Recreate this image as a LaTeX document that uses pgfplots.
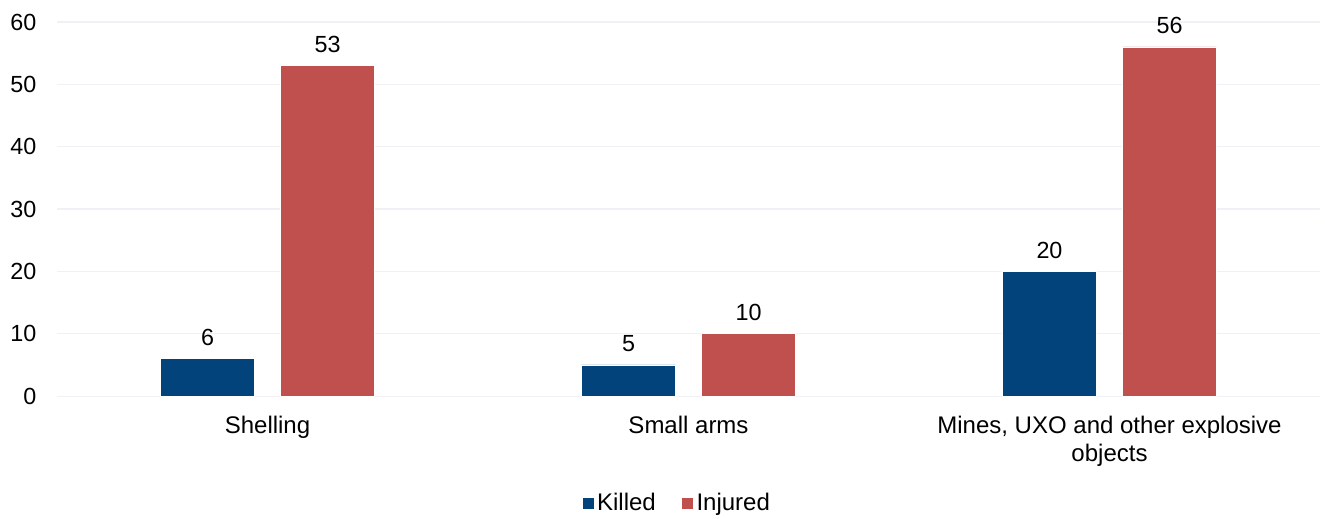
\documentclass[border=0pt]{standalone}
\usepackage{pgfplots}
\pgfplotsset{compat=1.18}
\usepackage{fontspec}
\setmainfont{Liberation Sans}
\definecolor{killed}{HTML}{01437A}
\definecolor{injured}{HTML}{C0504D}
\definecolor{gridc}{HTML}{F0F0F6}
\begin{document}
\begin{tikzpicture}
\begin{axis}[
  scale only axis,
  width=947pt, height=280.5pt,
  at={(0,0)}, anchor=south west,
  ybar=19.5pt, bar width=70.5pt,
  xmin=-0.5, xmax=2.5, ymin=0, ymax=60,
  ytick={0,10,...,60},
  xtick={0,1,2},
  xticklabels={Shelling, Small arms, {Mines, UXO and other explosive\\objects}},
  xticklabel style={align=center, font=\fontsize{18}{21}\selectfont, yshift=-7pt},
  yticklabel style={font=\fontsize{17.5}{21}\selectfont},
  /pgf/number format/assume math mode=true,
  axis line style={draw=none},
  major tick style={draw=none},
  ymajorgrids, grid style={gridc, line width=0.9pt},
  yticklabel style={xshift=-12pt},
  nodes near coords,
  every node near coord/.append style={font=\fontsize{17.5}{21}\selectfont, black, yshift=6pt},
  legend columns=2,
  legend style={draw=none, at={(465pt,-80.25pt)}, anchor=center,
    font=\fontsize{18}{21}\selectfont,
    /tikz/every even column/.append style={column sep=17pt}},
  legend image code/.code={\fill[#1] (-1pt,-4.5pt) rectangle (8pt,4.5pt);},
]
\addplot[fill=killed, draw=white, line width=0.5pt] coordinates {(0,6) (1,5) (2,20)};
\addplot[fill=injured, draw=white, line width=0.5pt] coordinates {(0,53) (1,10) (2,56)};
\legend{Killed, Injured}
\end{axis}
\useasboundingbox (-42.75pt,-91.5pt) rectangle (950.75pt,297pt);
\end{tikzpicture}
\end{document}
